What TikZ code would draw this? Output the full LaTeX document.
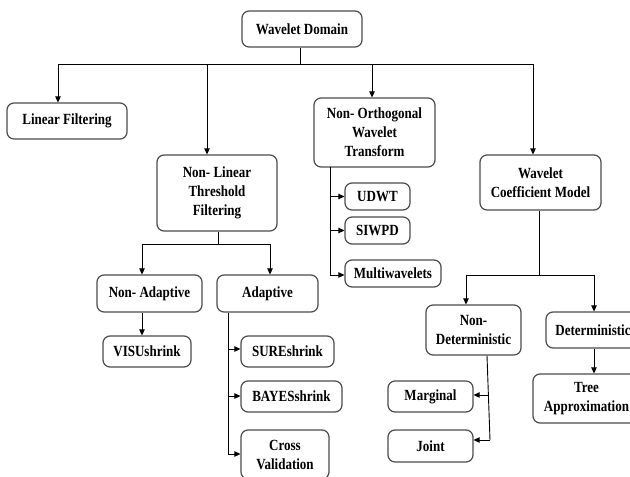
\documentclass[tikz,border=0pt]{standalone}
\usepackage{fontspec}
\setmainfont{Liberation Serif}[FakeStretch=0.84]
\usetikzlibrary{arrows.meta}
\begin{document}
\begin{tikzpicture}[x=1pt,y=-1pt,
  box/.style={draw=black!70,line width=1.2pt,rounded corners=7pt,fill=white,align=center,inner sep=0pt,
    font=\bfseries\fontsize{15.5}{19}\selectfont},
  conn/.style={draw=black,line width=0.9pt},
  arr/.style={conn,-{Triangle[length=6pt,width=5.5pt]}}]
\useasboundingbox[fill=white] (0,0) rectangle (630,477);
% nodes
\node[box,minimum width=120pt,minimum height=36pt] (wd) at (302,29) {Wavelet Domain};
\node[box,minimum width=120pt,minimum height=36pt] (lf) at (67,121) {Linear Filtering};
\node[box,minimum width=120pt,minimum height=76pt] (nlt) at (217,193) {Non- Linear\\Threshold\\Filtering};
\node[box,minimum width=121pt,minimum height=69pt] (nowt) at (374.5,132.5) {Non- Orthogonal\\Wavelet\\Transform};
\node[box,minimum width=121pt,minimum height=55pt] (wcm) at (540.5,182.5) {Wavelet\\Coefficient Model};
\node[box,minimum width=65pt,minimum height=27pt] (udwt) at (377.5,196.5) {UDWT};
\node[box,minimum width=65pt,minimum height=27pt] (siwpd) at (377.5,230.5) {SIWPD};
\node[box,minimum width=96pt,minimum height=27pt] (mw) at (393,273.5) {Multiwavelets};
\node[box,minimum width=105pt,minimum height=37pt] (nad) at (149.5,293.5) {Non- Adaptive};
\node[box,minimum width=101pt,minimum height=37pt] (ad) at (267.5,293.5) {Adaptive};
\node[box,minimum width=88pt,minimum height=31pt] (vis) at (147,351.5) {VISUshrink};
\node[box,minimum width=93pt,minimum height=31pt] (sure) at (287.5,351.5) {SUREshrink};
\node[box,minimum width=101pt,minimum height=31pt] (bayes) at (291.5,396.5) {BAYESshrink};
\node[box,minimum width=88pt,minimum height=49pt] (cv) at (285,454.5) {Cross\\Validation};
\node[box,minimum width=95pt,minimum height=50pt] (nd) at (473.5,330) {Non-\\Deterministic};
\node[box,minimum width=94pt,minimum height=36pt] (det) at (593,330) {Deterministic};
\node[box,minimum width=107pt,minimum height=49pt] (tree) at (586.5,398.5) {Tree\\Approximation};
\node[box,minimum width=85pt,minimum height=31pt] (marg) at (430.5,396.5) {Marginal};
\node[box,minimum width=85pt,minimum height=32pt] (joint) at (430.5,446) {Joint};
% top bus
\coordinate (j1) at (300,64);
\draw[conn] (wd.south -| j1) -- (j1);
\draw[conn] (58,64) -- (533,64);
\draw[arr] (58,64) -- (lf.north -| 58,0);
\draw[arr] (207,64) -- (nlt.north -| 207,0);
\draw[arr] (372,64) -- (nowt.north -| 372,0);
\draw[arr] (533,64) -- (wcm.north -| 533,0);
% NOWT children
\coordinate (nx) at (330,167);
\draw[conn] (nx) -- (330,275);
\draw[arr] (nx |- udwt.west) -- (udwt.west);
\draw[arr] (nx |- siwpd.west) -- (siwpd.west);
\draw[arr] (330,275) -- (mw.west |- 0,275);
% NLT children
\coordinate (nb) at (218,244);
\draw[conn] (nlt.south -| nb) -- (nb);
\draw[conn] (142,244) -- (270,244);
\draw[arr] (142,244) -- (nad.north -| 142,0);
\draw[arr] (270,244) -- (ad.north -| 270,0);
\draw[arr] (nad.south -| 142,0) -- (vis.north -| 142,0);
% Adaptive children
\coordinate (ax) at (228,312);
\draw[conn] (ad.south -| ax) -- (228,454);
\draw[arr] (228,349) -- (sure.west |- 0,349);
\draw[arr] (228,396) -- (bayes.west |- 0,396);
\draw[arr] (228,454) -- (cv.west |- 0,454);
% WCM children
\coordinate (wb) at (539,275);
\draw[conn] (wcm.south -| wb) -- (wb);
\draw[conn] (466,275) -- (594,275);
\draw[arr] (466,275) -- (nd.north -| 466,0);
\draw[arr] (594,275) -- (det.north -| 594,0);
\draw[arr] (det.south -| 594,0) -- (tree.north -| 594,0);
% Non-deterministic children
\draw[conn] (nd.south -| 487,0) -- (490,440);
\draw[arr] (489.3,395) -- (marg.east |- 0,395);
\draw[arr] (490,440) -- (joint.east |- 0,440);
\end{tikzpicture}
\end{document}
